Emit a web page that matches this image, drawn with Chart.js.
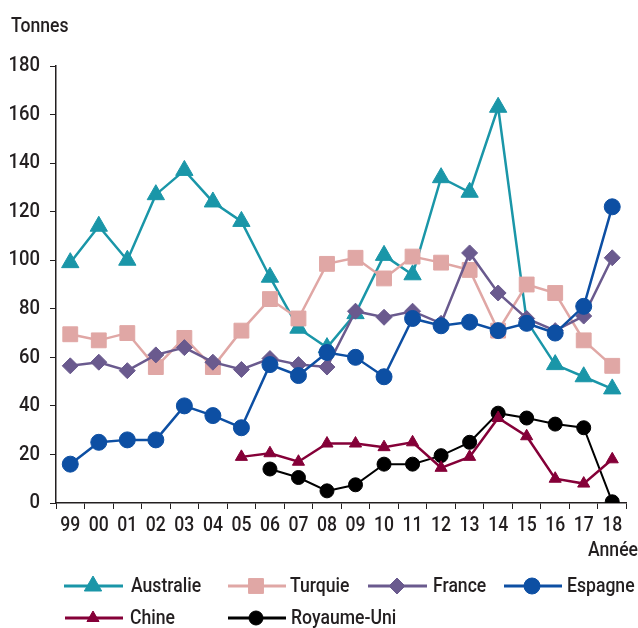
<!DOCTYPE html>
<html><head><meta charset="utf-8">
<script src="https://cdn.jsdelivr.net/npm/chart.js@4/dist/chart.umd.min.js"></script>
<style>html,body{margin:0;padding:0;background:#fff;overflow:hidden}#wrap{width:638px;height:628px;position:relative}</style>
</head><body><div id="wrap"><canvas id="c" width="638" height="628"></canvas></div>
<script>
const years = ['99','00','01','02','03','04','05','06','07','08','09','10','11','12','13','14','15','16','17','18'];
const australie = [99,114,100,127,137,124,116,93,72,64,78,102,94,134,128,163,75,57,52,47];
const turquie   = [69.5,67,70,56,68,56,71,84,76,98.5,101,92.5,101.5,99,96,71,90,86.5,67,56.5];
const france    = [56.5,58,54.5,61,64,58,55,59.5,57,56,79,76.5,79,74,103,86.5,76,71,77,101];
const espagne   = [16,25,26,26,40,36,31,57,52.5,62,60,52,76,73,74.5,71,74,70,81,122];
const chine     = [null,null,null,null,null,null,19,20.5,17,24.5,24.5,23,25,14.5,19,35,27.5,10,8,18];
const royaumeUni= [null,null,null,null,null,null,null,14,10.5,5,7.5,16,16,19.5,25,37,35,32.5,31,0.5];
const yTicks = [0,20,40,60,80,100,120,140,160,180];

const FONT = "Roboto,'Liberation Sans',sans-serif";
const WEIGHT = 500;
const TXT = '#231f20';
const NARROW = 0.88;
const series = [
  {label:'Australie', data:australie, color:'#1a96a8', style:'triangle', radius:10, width:2.5, order:6},
  {label:'Turquie', data:turquie, color:'#e0a7a5', style:'rect', radius:10.5, width:2.5, order:5},
  {label:'France', data:france, color:'#6a5a8e', style:'rectRot', radius:8, width:2.5, order:4},
  {label:'Espagne', data:espagne, color:'#0d4fa3', style:'circle', radius:8, width:2.5, order:3},
  {label:'Chine', data:chine, color:'#850038', style:'triangle', radius:7, width:2.5, order:1},
  {label:'Royaume-Uni', data:royaumeUni, color:'#000000', style:'circle', radius:7, width:2, order:2}
];
// [line start x, line end x, marker x, text x, y]
const legendPos = [[64,123,93,131,586],[228,286,256,290,586],[368,427,397,433,586],[504,562,532,567,586],[65,123,93,130,618],[228,286,256,291,618]];

const canvas = document.getElementById('c');
const c2d = canvas.getContext('2d');
const rawFill = c2d.fillText.bind(c2d);
c2d.fillText = function(t, x, y, maxW){
  this.save();
  this.translate(x, y);
  this.scale(NARROW, 1);
  if (maxW !== undefined) rawFill(t, 0, 0, maxW / NARROW); else rawFill(t, 0, 0);
  this.restore();
};

const extras = {
  id:'extras',
  afterDraw(chart){
    const ctx = chart.ctx;
    ctx.save();
    ctx.fillStyle = TXT;
    ctx.font = WEIGHT + ' 20px ' + FONT;
    ctx.textBaseline = 'alphabetic';
    ctx.textAlign = 'left';
    ctx.fillText('Tonnes', 11, 32);
    ctx.textAlign = 'right';
    ctx.fillText('Année', 638, 556);
    series.forEach((s,i)=>{
      const [x0,x1,mx,tx,y] = legendPos[i];
      ctx.strokeStyle = s.color; ctx.lineWidth = 3;
      ctx.beginPath(); ctx.moveTo(x0,y); ctx.lineTo(x1,y); ctx.stroke();
      ctx.fillStyle = s.color; ctx.lineWidth = 1;
      Chart.helpers.drawPoint(ctx,{pointStyle:s.style, radius:s.radius, rotation:0, borderWidth:1}, mx, y);
      ctx.fillStyle = TXT; ctx.textAlign='left'; ctx.textBaseline='middle';
      ctx.fillText(s.label, tx, y+1);
    });
    ctx.restore();
  }
};

new Chart(canvas, {
  type:'line',
  data:{
    labels: years,
    datasets: series.map(s=>({
      label:s.label, data:s.data, borderColor:s.color, backgroundColor:s.color,
      borderWidth:s.width, pointStyle:s.style, pointRadius:s.radius, pointHoverRadius:s.radius,
      pointBackgroundColor:s.color, pointBorderColor:s.color, pointBorderWidth:1,
      spanGaps:false, tension:0, order:s.order
    }))
  },
  options:{
    responsive:false, animation:false, devicePixelRatio:1,
    layout:{padding:{top:66,left:0,right:0,bottom:0}},
    plugins:{legend:{display:false}, tooltip:{enabled:false}},
    scales:{
      x:{
        type:'category', offset:true,
        grid:{offset:true, drawOnChartArea:false, drawTicks:true, tickLength:6, color:TXT, lineWidth:1},
        border:{color:TXT, width:1.5},
        ticks:{color:TXT, font:{family:FONT,size:20,weight:WEIGHT}, padding:5, maxRotation:0, minRotation:0, autoSkip:false},
        afterFit(s){ s.height = 125; }
      },
      y:{
        min:0, max:180,
        afterBuildTicks(s){ s.ticks = yTicks.map(v=>({value:v})); },
        grid:{drawOnChartArea:false, drawTicks:true, tickLength:6, color:TXT, lineWidth:1},
        border:{color:TXT, width:1.5},
        ticks:{color:TXT, font:{family:FONT,size:21,weight:WEIGHT}, padding:10},
        afterFit(s){ s.width = 56; }
      }
    }
  },
  plugins:[extras]
});
</script></body></html>
